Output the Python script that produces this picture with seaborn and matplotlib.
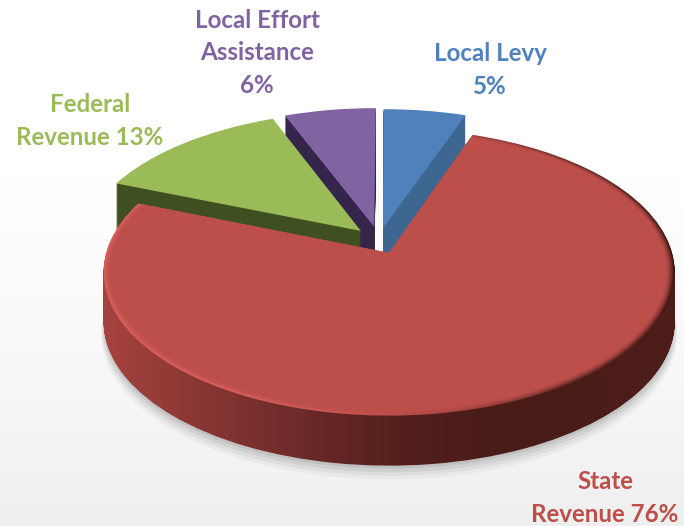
import numpy as np
import matplotlib
matplotlib.use("Agg")
import matplotlib.pyplot as plt
from matplotlib.path import Path
from matplotlib.transforms import Transform
import seaborn as sns

# Values (angles, labels say 5 / 76 / 13 / 6)
categories = ['Local Levy', 'State', 'Federal', 'Local Effort']
values = [5.4, 75.6, 13.0, 6.0]
labels = ['Local Levy\n5%', 'State\nRevenue 76%', 'Federal\nRevenue 13%',
          'Local Effort\nAssistance\n6%']

top_colors = ['#4F81BD', '#BD4F4B', '#9BBB59', '#8064A2']
wall_colors = ['#3D6691', '#7A3030', '#404F20', '#35254A']
label_pos = [(490, 70), (605, 498), (90, 121), (257, 53)]

# slice apex in the plane of the pie (u, v)
apex = [(-0.018, 0.18), (0.004, 0.0), (-0.098, 0.16), (-0.05, 0.19)]
draw_order = [0, 3, 2, 1]
DEPTH = 50


class TiltTransform(Transform):
    # flat pie coords -> picture pixels, with a bit of perspective
    input_dims = 2
    output_dims = 2

    def __init__(self, dy=0):
        super().__init__()
        self.dy = dy

    def transform_non_affine(self, xy):
        xy = np.asarray(xy, dtype=float)
        w = 1 + 0.133 * xy[:, 1]
        x = 388 + 283 * xy[:, 0] / w
        y = 253 - 141 * xy[:, 1] / w + self.dy
        return np.column_stack([x, y])


def flat_limits():
    ax.set_aspect('auto')
    ax.set_xlim(0, 684)
    ax.set_ylim(526, 0)
    ax.set_axis_off()


def slice_at(i, dy, color, z, radius=1.0, alpha=None):
    # one slice of the pie, moved to its own apex and dropped by dy pixels
    wedges, _ = ax.pie(values, startangle=90, counterclock=False, colors=['w'] * 4)
    for j, w in enumerate(wedges):
        if j != i:
            w.remove()
    w = wedges[i]
    w.set_center(apex[i])
    w.set_radius(radius)
    w.set_facecolor(color)
    w.set_edgecolor('none')
    w.set_alpha(alpha)
    w.set_transform(TiltTransform(dy) + ax.transData)
    w.set_zorder(z)
    return w


def gradient(colors, z, clip):
    cmap = sns.blend_palette(colors, as_cmap=True)
    im = ax.imshow(np.linspace(0, 1, 684)[None, :], cmap=cmap, extent=(0, 684, 526, 0),
                   aspect='auto', zorder=z)
    im.set_clip_path(clip, ax.transData)
    return im


sns.set_theme(style='white')
plt.rcParams['font.family'] = ['Lato', 'DejaVu Sans']

fig = plt.figure(figsize=(6.84, 5.26), dpi=100)
ax = fig.add_axes([0, 0, 1, 1])

# page background, white fading to light grey
bg = sns.blend_palette(['#FFFFFF', '#FFFFFF', '#F9F9F9', '#EFEFEF'], as_cmap=True)
ax.imshow(np.linspace(0, 1, 526)[:, None], cmap=bg, extent=(0, 684, 526, 0),
          aspect='auto', zorder=0)

# soft shadow on the floor
for step, alpha in zip([62, 59, 56, 53], [0.05, 0.08, 0.1, 0.12]):
    for i in range(4):
        slice_at(i, step, '#555555', 1, radius=1.0 + (step - 53) * 0.001, alpha=alpha)

# walls and tops, back to front
z = 2
for i in draw_order:
    if categories[i] == 'State':
        layers = [slice_at(i, d, 'none', z) for d in range(1, DEPTH + 1)]
        wall_path = Path.make_compound_path(
            *[(l.get_transform() - ax.transData).transform_path(l.get_path()) for l in layers])
        for l in layers:
            l.remove()
        gradient(['#B0453F', '#A84340', '#8A3734', '#6E2B29', '#55201D', '#4A1C18', '#4A1C18', '#4F1E1B'],
                 z, wall_path)
        z += 1
        # bevel round the top face: light on the left, dark on the right
        rim = slice_at(i, 0, 'none', z)
        rim_path = (rim.get_transform() - ax.transData).transform_path(rim.get_path())
        rim.remove()
        gradient(['#D65C58', '#D9605C', '#DB625E', '#C95853', '#A6443F', '#6B2B28', '#3A1512'],
                 z, rim_path)
        z += 1
        for r, a in zip([0.996, 0.992, 0.988, 0.984, 0.98, 0.976, 0.972],
                        [0.2, 0.25, 0.3, 0.35, 0.45, 0.6, 1.0]):
            slice_at(i, 0, top_colors[i], z, radius=r, alpha=a)
            z += 1
    else:
        for d in range(DEPTH, 0, -1):
            slice_at(i, d, wall_colors[i], z)
        z += 1
        slice_at(i, 0, top_colors[i], z)
        z += 1

flat_limits()

for text, pos, color in zip(labels, label_pos, top_colors):
    ax.text(pos[0], pos[1], text, color=color, fontsize=17.4, fontweight='bold',
            ha='center', va='center', linespacing=1.5, zorder=50)

fig.savefig('out.png', dpi=100)
